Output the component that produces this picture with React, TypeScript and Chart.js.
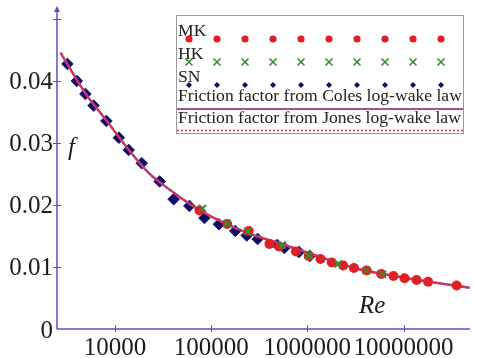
import { useEffect, useRef } from "react";
import { Chart, registerables } from "chart.js";

Chart.register(...registerables);

// Measured friction factors (Reynolds number, f)
const mkRe = [75640, 146600, 245900, 403600, 510800, 760800, 1032000, 1368000, 1795000, 2354000, 3051000, 4141000, 5848000, 7848000, 10240000, 13650000, 17990000, 35560000];
const mkF = [0.01911, 0.01694, 0.01581, 0.01371, 0.01331, 0.0125, 0.01177, 0.01129, 0.01073, 0.01024, 0.00984, 0.00944, 0.00887, 0.00855, 0.00818, 0.0079, 0.00763, 0.00702];

const hkRe = [81280, 146600, 239900, 547000, 1033000, 2094000, 4093000, 6040000];
const hkF = [0.01944, 0.01702, 0.01573, 0.01355, 0.01185, 0.01048, 0.00944, 0.00882];

const snRe = [3207, 4018, 4932, 5998, 8150, 10990, 13900, 19010, 29180, 40780, 59380, 85150, 120400, 178200, 234400, 303900, 486500, 577500, 817000, 1059000];
const snF = [0.04274, 0.04, 0.0379, 0.03602, 0.03355, 0.03085, 0.02887, 0.02673, 0.02379, 0.02092, 0.01984, 0.0179, 0.01689, 0.01581, 0.01508, 0.01452, 0.01355, 0.01306, 0.01242, 0.01177];

// Log-wake law curves
const curveRe = [2723, 3207, 4932, 8095, 13900, 22280, 40780, 72290, 234400, 555900, 1425000, 3126000, 8019000, 18280000, 48750000];
const colesF = [0.04456, 0.0427, 0.038, 0.0337, 0.0289, 0.0252, 0.022, 0.01935, 0.01553, 0.01366, 0.0115, 0.0098, 0.00855, 0.00763, 0.00666];
const jonesF = [0.04456, 0.0427, 0.038, 0.0337, 0.0289, 0.0252, 0.022, 0.01935, 0.01553, 0.01366, 0.0115, 0.0098, 0.00855, 0.00763, 0.00666];

// Axis ticks
const xTickValues = [10000, 100000, 1000000, 10000000];
const xTickLabels = ["10000", "100000", "1000000", "10000000"];
const yTickValues = [0, 0.01, 0.02, 0.03, 0.04, 0.05];
const yTickLabels = ["0", "0.01", "0.02", "0.03", "0.04", ""];

const legendLabels = ["MK", "HK", "SN", "Friction factor from Coles log-wake law", "Friction factor from Jones log-wake law"];

const SERIF = '"Liberation Serif", "Times New Roman", serif';
const AXIS_BLUE = "#5454c8";
const MK_RED = "#e01f26";
const HK_GREEN = "#2f8f2f";
const SN_NAVY = "#0c0c6c";
const COLES_PURPLE = "#a0509c";
const JONES_RED = "#e02a40";

const toPoints = (xs: number[], ys: number[]) => xs.map((x, i) => ({ x, y: ys[i] }));

const axesPlugin = {
  id: "frictionAxes",
  beforeDatasetsDraw(chart: any) {
    const { ctx, chartArea } = chart;
    const xs = chart.scales.x;
    const ys = chart.scales.y;
    const ox = chartArea.left;
    const oy = ys.getPixelForValue(0);
    ctx.save();
    ctx.strokeStyle = AXIS_BLUE;
    ctx.fillStyle = AXIS_BLUE;
    ctx.lineWidth = 1.5;
    ctx.beginPath();
    ctx.moveTo(ox, oy);
    ctx.lineTo(chartArea.right, oy);
    ctx.moveTo(ox, oy);
    ctx.lineTo(ox, chartArea.top + 2);
    ctx.stroke();
    // arrow head on the f axis
    ctx.beginPath();
    ctx.moveTo(ox, chartArea.top - 3);
    ctx.lineTo(ox - 3, chartArea.top + 3);
    ctx.lineTo(ox + 3, chartArea.top + 3);
    ctx.closePath();
    ctx.fill();
    ctx.lineWidth = 1;
    ctx.beginPath();
    yTickValues.forEach((v) => {
      if (v === 0) return;
      const py = Math.round(ys.getPixelForValue(v)) + 0.5;
      ctx.moveTo(ox - 4, py);
      ctx.lineTo(ox + 4, py);
    });
    xTickValues.forEach((v) => {
      const px = Math.round(xs.getPixelForValue(v)) + 0.5;
      ctx.moveTo(px, oy - 4);
      ctx.lineTo(px, oy + 3);
    });
    ctx.stroke();
    ctx.restore();
  },
  afterDraw(chart: any) {
    const { ctx, chartArea } = chart;
    const xs = chart.scales.x;
    const ys = chart.scales.y;
    const ox = chartArea.left;
    const oy = ys.getPixelForValue(0);
    ctx.save();
    ctx.fillStyle = "#1c1c1c";
    ctx.font = `25px ${SERIF}`;
    ctx.textBaseline = "alphabetic";
    ctx.textAlign = "right";
    yTickValues.forEach((v, i) => {
      if (!yTickLabels[i]) return;
      ctx.fillText(yTickLabels[i], ox - 4, ys.getPixelForValue(v) + 8.5);
    });
    ctx.textAlign = "center";
    xTickValues.forEach((v, i) => {
      ctx.fillText(xTickLabels[i], xs.getPixelForValue(v), oy + 26);
    });
    // axis titles
    ctx.font = `italic 25px ${SERIF}`;
    ctx.textAlign = "left";
    ctx.fillText("f", 68, 155);
    ctx.fillText("Re", 359, 313);

    // legend box
    const bx = 176.5, by = 15.5, bw = 287, bh = 118;
    ctx.fillStyle = "#ffffff";
    ctx.fillRect(bx, by, bw, bh);
    ctx.strokeStyle = "#9a9a9a";
    ctx.lineWidth = 1;
    ctx.strokeRect(bx, by, bw, bh);

    ctx.fillStyle = "#222222";
    ctx.font = `17.6px ${SERIF}`;
    ctx.textAlign = "left";
    const textY = [36, 59, 82, 101, 123];
    legendLabels.forEach((t, i) => ctx.fillText(t, 178, textY[i]));

    for (let i = 0; i < 10; i++) {
      const mx = 189 + 28 * i;
      // MK dot
      ctx.fillStyle = MK_RED;
      ctx.beginPath();
      ctx.arc(mx, 39, 3.6, 0, Math.PI * 2);
      ctx.fill();
      // HK cross
      ctx.strokeStyle = HK_GREEN;
      ctx.lineWidth = 1.6;
      ctx.beginPath();
      ctx.moveTo(mx - 3.5, 58.5);
      ctx.lineTo(mx + 3.5, 65.5);
      ctx.moveTo(mx + 3.5, 58.5);
      ctx.lineTo(mx - 3.5, 65.5);
      ctx.stroke();
      // SN diamond
      ctx.fillStyle = SN_NAVY;
      ctx.beginPath();
      ctx.moveTo(mx, 82);
      ctx.lineTo(mx + 3, 85);
      ctx.lineTo(mx, 88);
      ctx.lineTo(mx - 3, 85);
      ctx.closePath();
      ctx.fill();
    }
    ctx.strokeStyle = COLES_PURPLE;
    ctx.lineWidth = 2;
    ctx.beginPath();
    ctx.moveTo(177, 109);
    ctx.lineTo(463, 109);
    ctx.stroke();
    ctx.strokeStyle = JONES_RED;
    ctx.lineWidth = 1.3;
    ctx.setLineDash([2, 2]);
    ctx.beginPath();
    ctx.moveTo(177, 130.5);
    ctx.lineTo(463, 130.5);
    ctx.stroke();
    ctx.restore();
  },
};

export default function App() {
  const canvasRef = useRef<HTMLCanvasElement | null>(null);

  useEffect(() => {
    const canvas = canvasRef.current;
    if (!canvas) return;
    const chart = new Chart(canvas, {
      type: "scatter",
      data: {
        datasets: [
          {
            label: "HK",
            data: toPoints(hkRe, hkF),
            pointStyle: "crossRot",
            pointRadius: 5,
            borderColor: HK_GREEN,
            backgroundColor: HK_GREEN,
            pointBorderWidth: 2,
            showLine: false,
            order: 0,
          },
          {
            label: "MK",
            data: toPoints(mkRe, mkF),
            pointStyle: "circle",
            pointRadius: 5,
            backgroundColor: MK_RED,
            borderColor: MK_RED,
            pointBorderWidth: 0,
            showLine: false,
            order: 1,
          },
          {
            label: "Jones",
            data: toPoints(curveRe, jonesF),
            showLine: true,
            pointRadius: 0,
            borderColor: JONES_RED,
            borderWidth: 2,
            borderDash: [3, 1.5],
            cubicInterpolationMode: "monotone",
            order: 2,
          },
          {
            label: "Coles",
            data: toPoints(curveRe, colesF),
            showLine: true,
            pointRadius: 0,
            borderColor: COLES_PURPLE,
            borderWidth: 2.4,
            cubicInterpolationMode: "monotone",
            order: 3,
          },
          {
            label: "SN",
            data: toPoints(snRe, snF),
            pointStyle: "rectRot",
            pointRadius: 5.8,
            backgroundColor: SN_NAVY,
            borderColor: "#2a1466",
            pointBorderWidth: 1,
            showLine: false,
            order: 4,
          },
        ],
      },
      options: {
        animation: false,
        responsive: false,
        events: [],
        layout: { padding: { left: 57, right: 0, top: 9, bottom: 29 } },
        plugins: { legend: { display: false }, tooltip: { enabled: false } },
        scales: {
          x: { type: "logarithmic", min: 2500, max: 49000000, display: false },
          y: { type: "linear", min: 0, max: 0.0516, display: false },
        },
      },
      plugins: [axesPlugin],
    } as any);
    return () => chart.destroy();
  }, []);

  return (
    <div style={{ position: "fixed", left: 0, top: 0, width: 477, height: 358, background: "#fff" }}>
      <canvas ref={canvasRef} width={477} height={358} style={{ display: "block", width: 477, height: 358 }} />
    </div>
  );
}
